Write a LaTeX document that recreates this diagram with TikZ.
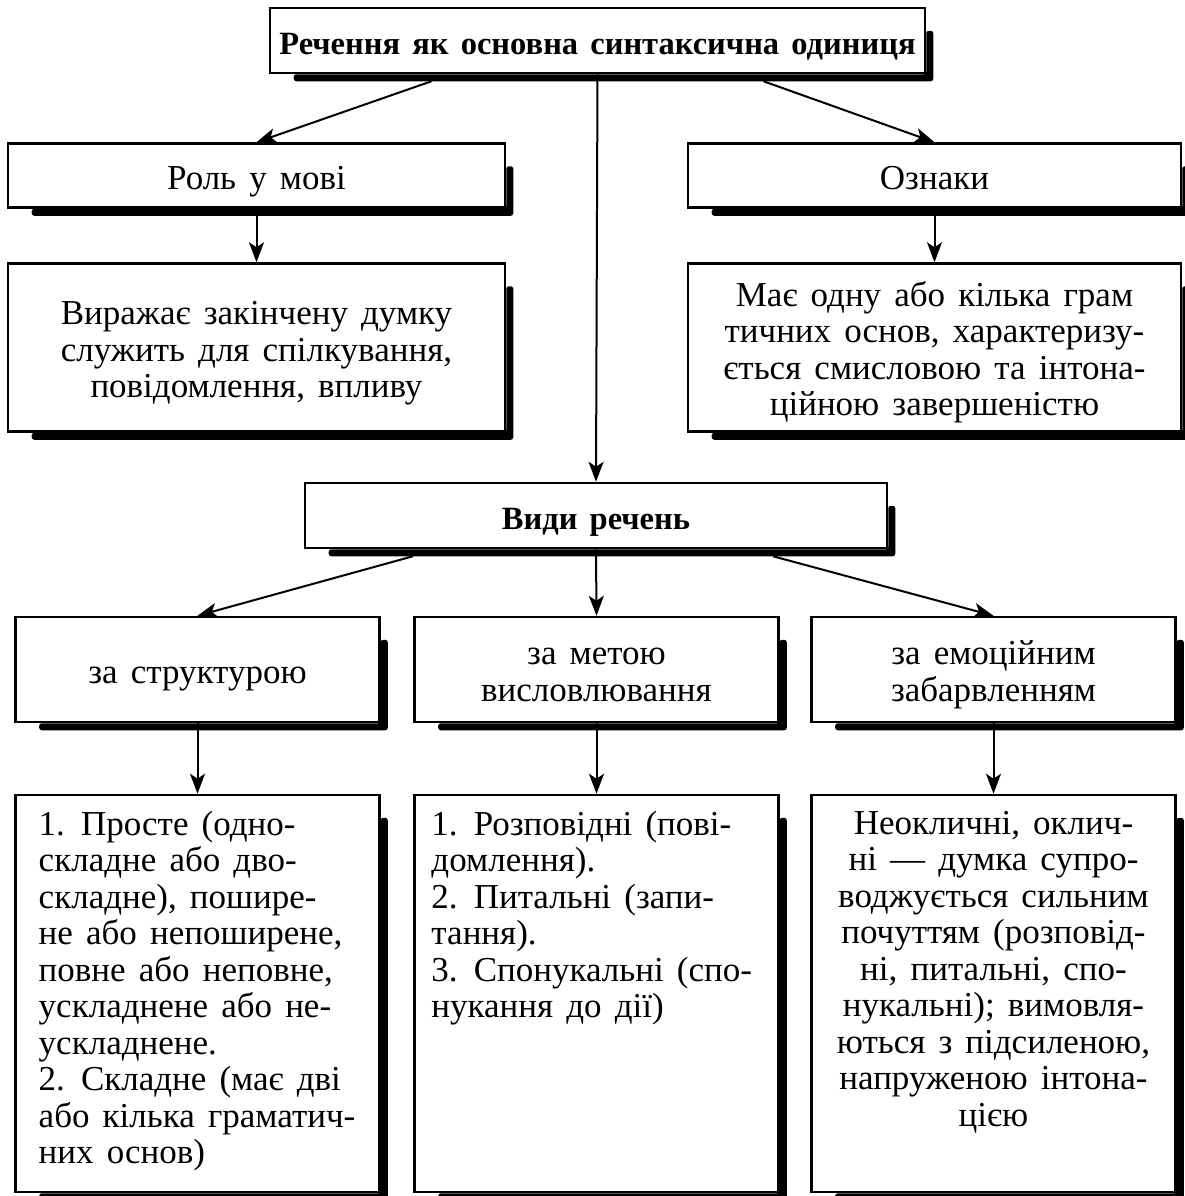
\documentclass[tikz,border=0pt]{standalone}
\usepackage{fontspec}
\setmainfont{Liberation Serif}[WordSpace=1.5]
\usetikzlibrary{arrows.meta,calc}
\newcommand{\txtsize}{\fontsize{14pt}{14.6pt}\selectfont}
\newcommand{\listcell}[2]{\parbox[c][146pt][t]{#1}{#2}}

\begin{document}
\begin{tikzpicture}[x=0.4pt,y=-0.4pt,
  box/.style={draw,line width=1pt,minimum height=25.6pt,align=center,inner sep=3pt,font=\txtsize},
  oneline/.style={text height=13.8pt,text depth=3pt},
  twolines/.style={text height=28.4pt,text depth=3pt},
  threelines/.style={text height=43pt,text depth=3pt},
  fourlines/.style={text height=57.6pt,text depth=3pt},
  listbox/.style={box,minimum width=145.6pt,minimum height=158.8pt,inner ysep=6pt},
  arr/.style={-{Stealth[length=8pt,width=6pt,inset=2pt]},line width=0.8pt}
]
  \useasboundingbox[fill=white] (0,0) rectangle (1185,1196);

  % Nodes: title on top, two branches, then the kinds of sentences
  \node[box,oneline,minimum width=262pt,minimum height=26pt,font=\fontsize{13pt}{14.6pt}\selectfont\bfseries] (top) at (597.5,40.5) {Речення як основна синтаксична одиниця};
  \node[box,oneline,minimum width=198.8pt] (role) at (256.5,175.5) {Роль у мові};
  \node[box,oneline,minimum width=197.2pt] (sign) at (934.5,175.5) {Ознаки};
  \node[box,threelines,minimum width=198.8pt,minimum height=67.2pt] (roleTxt) at (256.5,347.5)
    {Виражає закінчену думку\\ служить для спілкування,\\ повідомлення, впливу};
  \node[box,fourlines,minimum width=197.2pt,minimum height=67.2pt] (signTxt) at (934.5,347.5)
    {Має одну або кілька грам\\ тичних основ, характеризу-\\ ється смисловою та інтона-\\ ційною завершеністю};
  \node[box,oneline,minimum width=232.8pt,minimum height=26pt,font=\fontsize{13pt}{14.6pt}\selectfont\bfseries] (kinds) at (596,515.5) {Види речень};

  \node[box,oneline,minimum width=145.6pt,minimum height=42pt]  (struct) at (197.5,669.5) {за структурою};
  \node[box,twolines,minimum width=145.6pt,minimum height=42pt] (aim)    at (596.5,669.5) {за метою\\ висловлювання};
  \node[box,twolines,minimum width=145.6pt,minimum height=42pt] (emo)    at (993.5,669.5) {за емоційним\\ забарвленням};

  \node[listbox,inner xsep=9pt] (structList) at (197.5,993.5) {\listcell{127pt}{\raggedright
    1. Просте (одно-\\ складне або дво-\\ складне), пошире-\\ не або непоширене,\\
    повне або неповне,\\ ускладнене або не-\\ ускладнене.\\ 2. Складне (має дві\\
    або кілька граматич-\\ них основ)}};
  \node[listbox,inner xsep=6.8pt] (aimList) at (596.5,993.5) {\listcell{132pt}{\raggedright
    1. Розповідні (пові-\\ домлення).\\ 2. Питальні (запи-\\ тання).\\
    3. Спонукальні (спо-\\ нукання до дії)}};
  \node[listbox,inner xsep=6pt] (emoList) at (993.5,993.5) {\listcell{133pt}{\centering
    Неокличні, оклич-\\ ні — думка супро-\\ воджується сильним\\ почуттям (розповід-\\
    ні, питальні, спо-\\ нукальні); вимовля-\\ ються з підсиленою,\\ напруженою інтона-\\ цією}};

  % shadows: thick bar along the right and bottom sides
  \foreach \n in {top,role,sign,roleTxt,signTxt,kinds,struct,aim,emo,structList,aimList,emoList}
    \fill[rounded corners=1pt] ($(\n.north east)+(0,24)$) -- ++(7,0) |- ($(\n.south west)+(25,7)$)
      -- ($(\n.south west)+(25,0)$) -- (\n.south east) -- cycle;

  % top level
  \draw[arr] ($(top.south)+(-166,7)$) -- (role.north);
  \draw[arr] ($(top.south)+(166,7)$) -- (sign.north);
  \draw[arr] (top.south) -- (kinds.north);
  \draw[arr] (role.south) -- (roleTxt.north);
  \draw[arr] (sign.south) -- (signTxt.north);

  % kinds of sentences
  \draw[arr] ($(kinds.south)+(-183,7)$) -- (struct.north);
  \draw[arr] (kinds.south) -- (aim.north);
  \draw[arr] ($(kinds.south)+(177,7)$) -- (emo.north);
  \draw[arr] (struct.south) -- (structList.north);
  \draw[arr] (aim.south) -- (aimList.north);
  \draw[arr] (emo.south) -- (emoList.north);
\end{tikzpicture}
\end{document}
